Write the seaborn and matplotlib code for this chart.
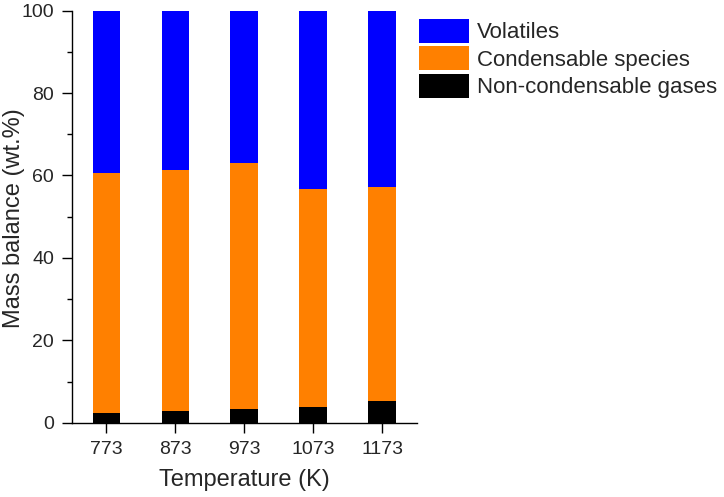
import matplotlib
matplotlib.use("Agg")
import matplotlib.pyplot as plt
import seaborn as sns
import pandas as pd
import numpy as np
from matplotlib.patches import Patch
from matplotlib.ticker import MultipleLocator

temperatures = ["773", "873", "973", "1073", "1173"]
non_condensable = [2.3, 2.9, 3.3, 3.8, 5.3]
condensable = [58.2, 58.5, 59.8, 52.9, 51.9]
volatiles = [39.5, 38.6, 36.9, 43.3, 42.8]

series_names = ["Volatiles", "Condensable species", "Non-condensable gases"]
colors = ["#0000ff", "#ff8000", "#000000"]

sns.set_theme(style="ticks")
plt.rcParams["font.family"] = ["Liberation Sans", "DejaVu Sans"]

df = pd.DataFrame({
    "T": temperatures,
    "nc": non_condensable,
    "c": condensable,
    "v": volatiles,
})
df["top_nc"] = df["nc"]
df["top_c"] = df["nc"] + df["c"]
df["top_v"] = df["nc"] + df["c"] + df["v"]

W, H = 724, 497
fig = plt.figure(figsize=(W / 100, H / 100), dpi=100)
left, right, top, bottom = 72, 416.5, 10.7, 422.7
ax = fig.add_axes([left / W, 1 - bottom / H, (right - left) / W, (bottom - top) / H])

for col, color in [("top_v", colors[0]), ("top_c", colors[1]), ("top_nc", colors[2])]:
    sns.barplot(data=df, x="T", y=col, order=temperatures, color=color,
                width=0.4, linewidth=0, saturation=1, ax=ax)

ax.set_xlim(-0.5, 4.5)
ax.set_ylim(0, 100)
ax.yaxis.set_major_locator(MultipleLocator(20))
ax.yaxis.set_minor_locator(MultipleLocator(10))
ax.set_xlabel("Temperature (K)", fontsize=17, labelpad=8)
ax.set_ylabel("Mass balance (wt.%)", fontsize=17)
ax.yaxis.set_label_coords(-0.137, 0.496)
ax.tick_params(axis="both", which="major", labelsize=14, length=7.5, width=1,
               color="black", direction="out", pad=5.5)
ax.tick_params(axis="y", which="minor", length=3.8, width=1, color="black", direction="out")
for s in ["top", "right"]:
    ax.spines[s].set_visible(False)
for s in ["left", "bottom"]:
    ax.spines[s].set_color("black")
    ax.spines[s].set_linewidth(1)

handles = [Patch(facecolor=c, edgecolor="none") for c in colors]
fig.legend(handles, series_names, loc="upper left",
           bbox_to_anchor=(419 / W, 1 - 19 / H), frameon=False,
           fontsize=16, handlelength=2.25, handleheight=1.28,
           labelspacing=0.135, handletextpad=0.36, borderpad=0, borderaxespad=0)

fig.savefig("out.png", dpi=100)
